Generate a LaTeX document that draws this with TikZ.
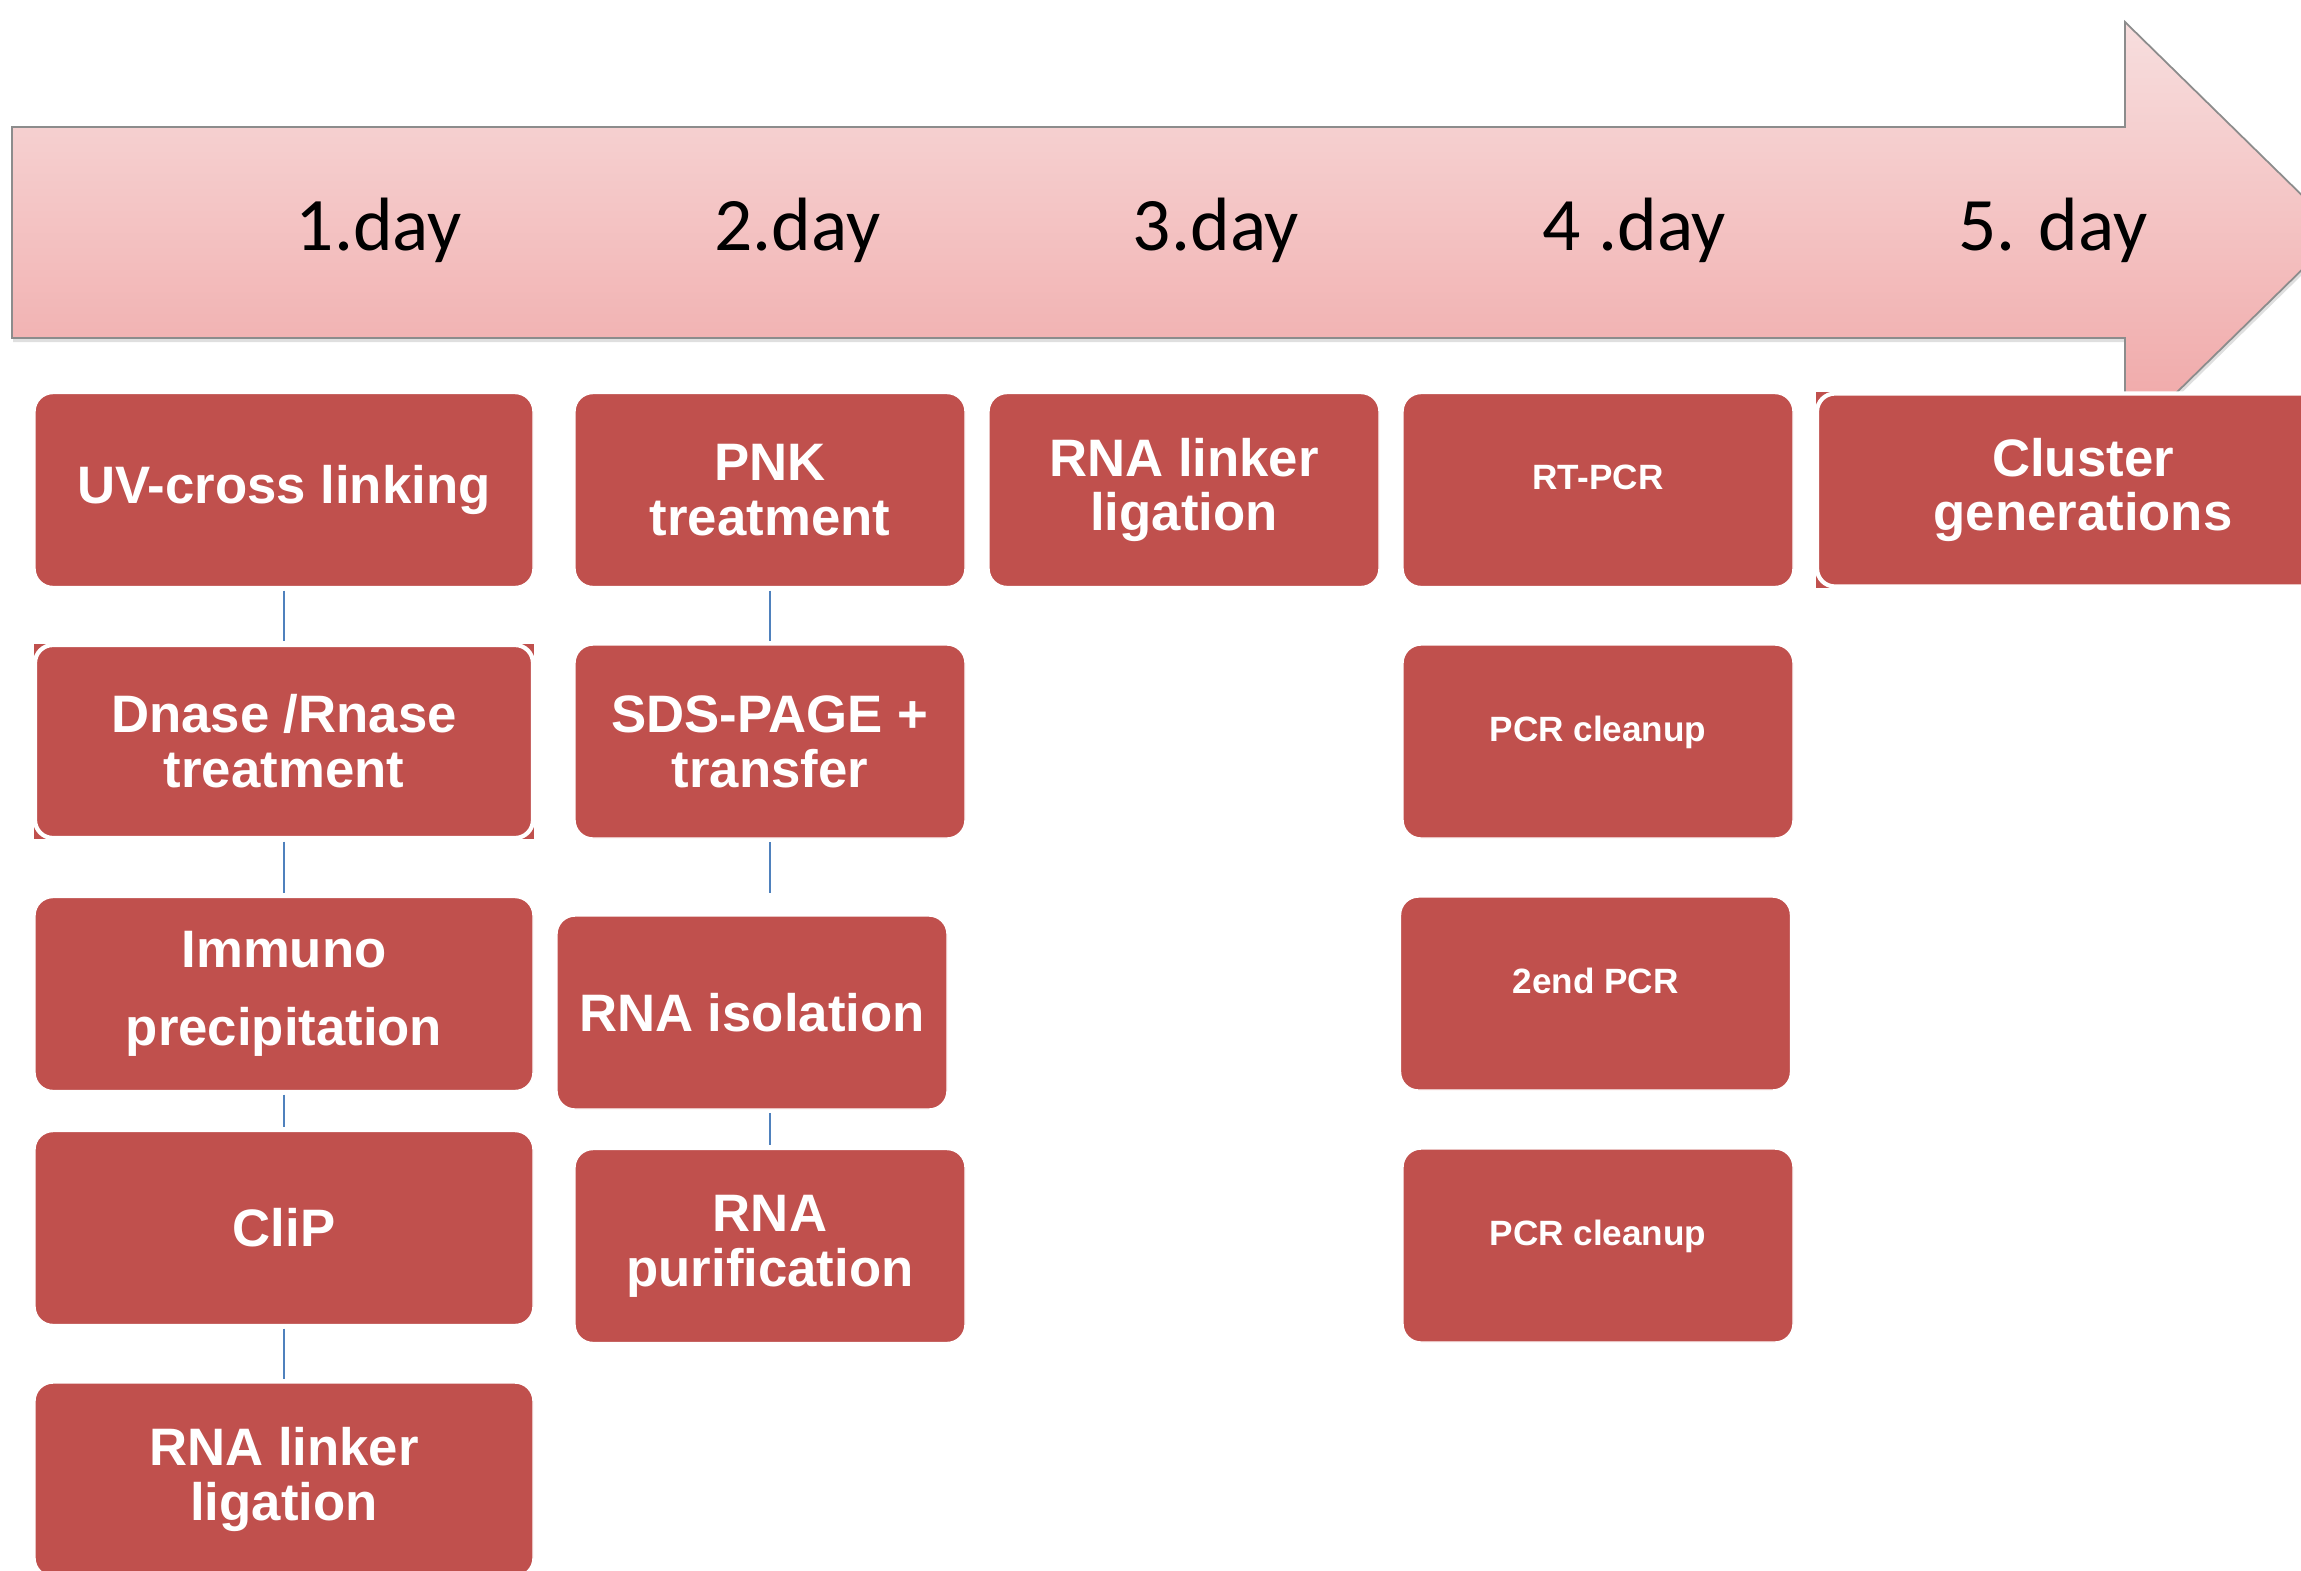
\documentclass[tikz,border=0pt]{standalone}
\usepackage{fontspec}
\setmainfont{Liberation Sans}
\newfontfamily\dayfont{Carlito}
\usepackage{tikz}
\usetikzlibrary{
	positioning,
	shadows,
	backgrounds
}
\definecolor{boxred}{HTML}{C0504D}
\definecolor{linkblue}{HTML}{4F81BD}
\definecolor{arrowtop}{HTML}{F7DEDE}
\definecolor{arrowbot}{HTML}{F0A5A5}
\definecolor{arrowline}{HTML}{8C8C8C}

\begin{document}
\begin{tikzpicture}[
		stepbox/.style={
			rectangle, draw=white, line width=0.4pt, rounded corners=0.18cm,
			minimum width=3.9cm, minimum height=1.93cm,
			align=center, fill=boxred, text=white,
			font=\fontsize{15}{15.6}\selectfont\bfseries
		},
		widebox/.style={
			stepbox, minimum width=4.98cm
		},
		smallbox/.style={
			stepbox, font=\fontsize{10}{12}\selectfont\bfseries,
			text height=7pt, text depth=7.2pt
		},
		markedbox/.style={
			line width=1.2pt, outer sep=0pt
		},
		link/.style={draw=linkblue, line width=0.6pt, shorten <=1pt, shorten >=1pt},
		daylabel/.style={font=\dayfont\fontsize{21.5}{24}\selectfont, anchor=base},
		]
		\useasboundingbox (0,0) rectangle (23.01,-15.70);
		\clip (0,0) rectangle (23.01,-15.70);

		%time arrow
		\path[top color=arrowtop, bottom color=arrowbot, draw=arrowline, line width=0.5pt,
			drop shadow={shadow xshift=0.3pt, shadow yshift=-1.2pt, opacity=0.25}]
			(0.12,-1.27) -- (21.25,-1.27) -- (21.25,-0.22) -- (23.40,-2.325)
			-- (21.25,-4.43) -- (21.25,-3.38) -- (0.12,-3.38) -- cycle;

		\foreach \txt [count=\i] in {1.day, 2.day, 3.day, 4 .day, 5. day}
			\node[daylabel] (day\i) at ({3.79+4.185*(\i-1)},-2.50) {\txt};

		%1. day
		\node[widebox] (uv) at (2.84,-4.90) {UV-cross linking};
		\node[widebox, markedbox] (dnase) at (2.84,-7.415) {Dnase /Rnase\\treatment};
		\node[widebox] (immuno) at (2.84,-9.94) {Immuno\\[6.6pt]precipitation};
		\node[widebox] (clip) at (2.84,-12.28) {CliP};
		\node[widebox] (linkerA) at (2.84,-14.795) {RNA linker\\ligation};

		\draw[link] (uv) -- (dnase);
		\draw[link] (dnase) -- (immuno);
		\draw[link] (immuno) -- (clip);
		\draw[link] (clip) -- (linkerA);

		%2. day
		\node[stepbox] (pnk) at (7.70,-4.90) {PNK\\treatment};
		\node[stepbox] (sds) at (pnk |- dnase) {SDS-PAGE +\\transfer};
		\node[stepbox] (iso) at (7.52,-10.125) {RNA isolation};
		\node[stepbox] (purif) at (7.70,-12.46) {RNA\\purification};

		\draw[link] (pnk) -- (sds);
		\draw[link, shorten >=0.22cm] (sds) -- (sds |- iso.north);
		\draw[link] (purif.north |- iso.south) -- (purif);

		%3. day
		\node[stepbox] (linkerB) at (11.84,-4.90) {RNA linker\\ligation};

		%4. day
		\node[smallbox] (rtpcr) at (15.98,-4.90) {RT-PCR};
		\node[smallbox] (cleanA) at (rtpcr |- dnase) {PCR cleanup};
		\node[smallbox] (second) at (15.955,-9.935) {2end PCR};
		\node[smallbox] (cleanB) at (15.98,-12.455) {PCR cleanup};

		%5. day
		\node[stepbox, markedbox, minimum width=5.32cm] (cluster) at (20.83,-4.90) {Cluster\\generations};

		%corner marks
		\begin{scope}[on background layer]
			\fill[boxred] ([shift={(-0.012,0.012)}]dnase.north west) rectangle ([shift={(0.012,-0.012)}]dnase.south east);
			\fill[boxred] ([shift={(-0.012,0.012)}]cluster.north west) rectangle ([shift={(0.012,-0.012)}]cluster.south east);
		\end{scope}
\end{tikzpicture}
\end{document}
